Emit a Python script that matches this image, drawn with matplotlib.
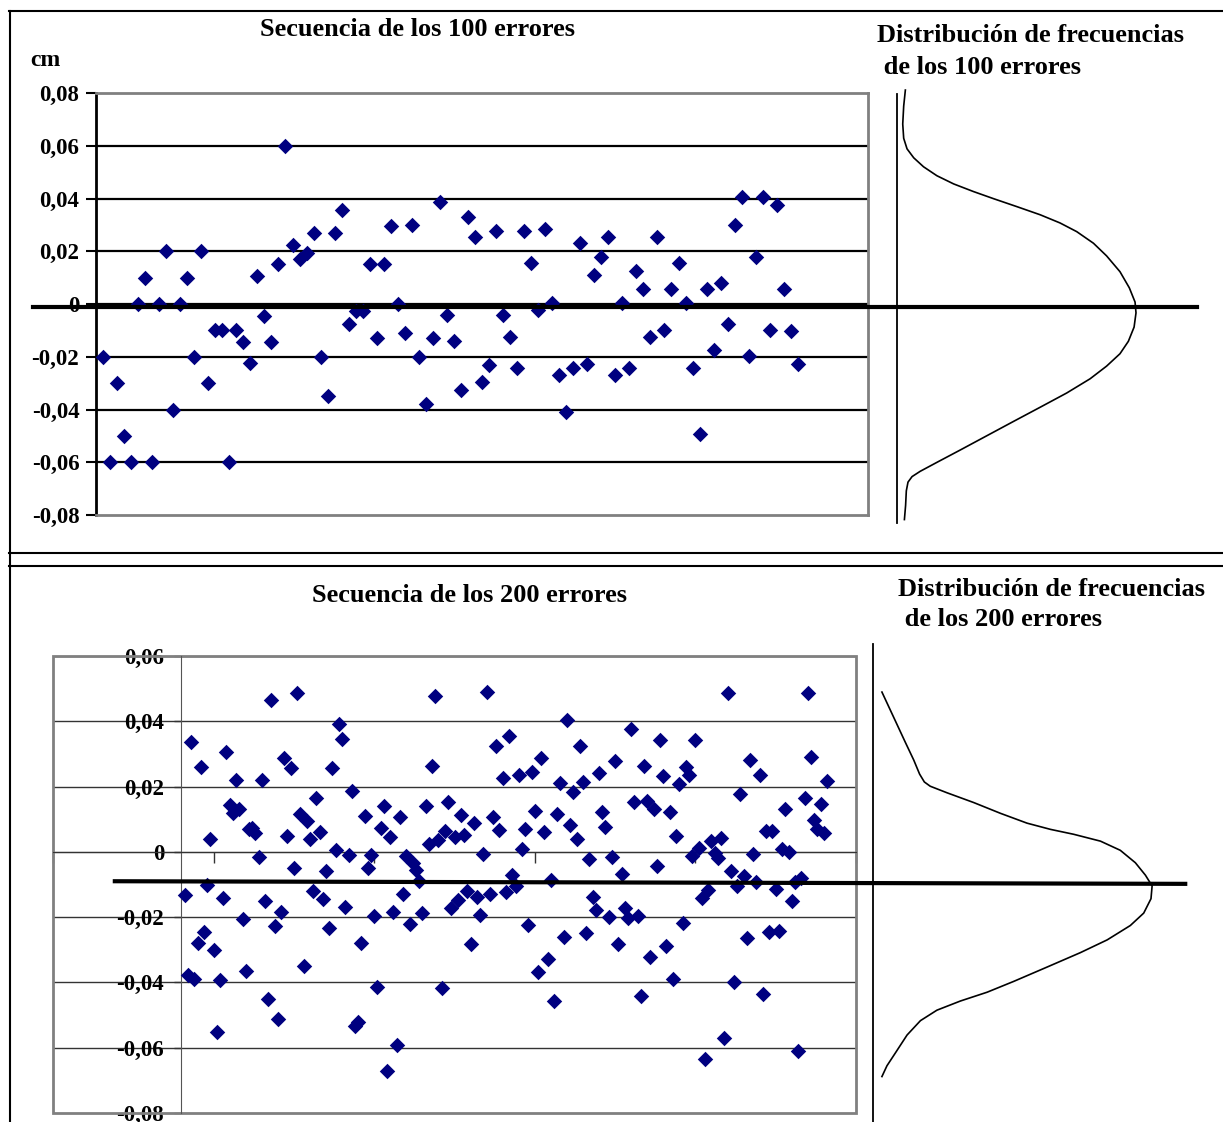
import matplotlib.pyplot as plt
import numpy as np
from matplotlib.ticker import FuncFormatter, FixedLocator
from matplotlib.patches import Rectangle

# fuente tipo Times en negrita
plt.rcParams['font.family'] = ['Liberation Serif', 'DejaVu Serif']
plt.rcParams['font.weight'] = 'bold'

W, H = 1223, 1122

# errores de la primera serie (cm)
errores_100 = [
    -0.02, -0.06, -0.03, -0.05, -0.06, 0.0, 0.01, -0.06, 0.0, 0.02,
    -0.04, 0.0, 0.01, -0.02, 0.02, -0.03, -0.01, -0.01, -0.06, -0.01,
    -0.0145, -0.0225, 0.0105, -0.0045, -0.0145, 0.015, 0.06, 0.0225, 0.017, 0.0195,
    0.027, -0.02, -0.035, 0.027, 0.0355, -0.0075, -0.0025, -0.0025, 0.015, -0.013,
    0.015, 0.0295, 0.0, -0.011, 0.03, -0.02, -0.038, -0.013, 0.0385, -0.0043,
    -0.0142, -0.0325, 0.033, 0.0254, -0.0296, -0.0232, 0.0277, -0.0043, -0.0127, -0.0241,
    0.0277, 0.0155, -0.0022, 0.0284, 0.0003, -0.027, -0.0408, -0.0241, 0.0231, -0.0226,
    0.0109, 0.0178, 0.0254, -0.027, 0.0003, -0.0241, 0.0124, 0.0056, -0.0127, 0.0254,
    -0.0097, 0.0056, 0.0155, 0.0003, -0.0241, -0.0493, 0.0056, -0.0173, 0.0079, -0.0074,
    0.03, 0.0406, -0.0196, 0.0178, 0.0406, -0.0097, 0.0376, 0.0056, -0.0104, -0.0226,
]

# errores de la segunda serie (cm)
errores_200 = [
    -0.0132, -0.0376, 0.0336, -0.0389, -0.0279, 0.026, -0.0247, -0.0101, 0.0039, -0.03,
    -0.0551, -0.0392, -0.0142, 0.0307, 0.0144, 0.0118, 0.022, 0.0131, -0.0206, -0.0366,
    0.0069, 0.0072, 0.0057, -0.0016, 0.022, -0.0152, -0.045, 0.0465, -0.0226, -0.0512,
    -0.0183, 0.0287, 0.0049, 0.0256, -0.005, 0.0486, 0.0116, -0.0351, 0.0093, 0.0039,
    -0.0121, 0.0164, 0.0062, -0.0145, -0.0058, -0.0234, 0.0258, 0.0006, 0.0392, 0.0345,
    -0.0169, -0.0011, 0.0185, -0.0534, -0.0522, -0.0279, 0.0111, -0.005, -0.0009, -0.0195,
    -0.0415, 0.0072, 0.0141, -0.0672, 0.0047, -0.0183, -0.0591, 0.0106, -0.013, -0.0014,
    -0.022, -0.0035, -0.0055, -0.009, -0.0186, 0.0139, 0.0024, 0.0264, 0.0478, 0.0037,
    -0.0417, 0.0065, 0.0154, -0.0172, 0.0047, -0.0149, 0.0113, 0.0052, -0.0119, -0.0282,
    0.0088, -0.0137, -0.0193, -0.0006, 0.0489, -0.0129, 0.0108, 0.0324, 0.0067, 0.0227,
    -0.0123, 0.0356, -0.007, -0.0106, 0.0236, 0.0009, 0.0069, -0.0223, 0.0246, 0.0126,
    -0.0368, 0.0287, 0.0062, -0.0328, -0.0086, -0.0456, 0.0115, 0.0212, -0.0261, 0.0404,
    0.0081, 0.0182, 0.004, 0.0325, 0.0215, -0.0249, -0.0021, -0.0137, -0.0177, 0.0241,
    0.0121, 0.0075, -0.02, -0.0016, 0.0279, -0.0283, -0.0068, -0.0172, -0.0203, 0.0376,
    0.0154, -0.0198, -0.0441, 0.0263, 0.0157, -0.0323, 0.0131, -0.0042, 0.0343, 0.0231,
    -0.0288, 0.0121, -0.039, 0.005, 0.0207, -0.0218, 0.0259, 0.0236, -0.0014, 0.0343,
    0.0011, -0.0142, -0.0634, -0.0116, 0.0032, -0.0004, -0.0019, 0.0042, -0.057, 0.0486,
    -0.006, -0.0399, -0.0106, 0.0177, -0.0075, -0.0264, 0.0282, -0.0006, -0.0091, 0.0236,
    -0.0435, 0.0064, -0.0246, 0.0064, -0.0114, -0.0241, 0.0008, 0.0131, -0.0001, -0.015,
    -0.0091, -0.0609, -0.0079, 0.0166, 0.0486, 0.0292, 0.0098, 0.0069, 0.0147, 0.0057,
    0.0218,
]

# linea media dibujada sobre cada grafico
media_100 = [-0.001, -0.001]
media_200 = [-0.009, -0.0098]

# curvas de distribucion dibujadas a mano (altura en cm, frecuencia relativa)
curva_100_y = [0.0811, 0.075, 0.0682, 0.0628, 0.0588, 0.0554, 0.052, 0.0486, 0.0455, 0.0426,
               0.0399, 0.0369, 0.0338, 0.0307, 0.0274, 0.023, 0.0182, 0.0122, 0.0061, 0.0007,
               -0.0034, -0.0088, -0.0142, -0.0189, -0.0236, -0.0284, -0.0338, -0.0392, -0.0446,
               -0.05, -0.0554, -0.0601, -0.0635, -0.0655, -0.0676, -0.0709, -0.0764, -0.0818]
curva_100_f = [0.035, 0.028, 0.024, 0.028, 0.042, 0.07, 0.111, 0.167, 0.237, 0.32,
               0.404, 0.501, 0.599, 0.682, 0.752, 0.822, 0.877, 0.933, 0.972, 0.996,
               1.0, 0.992, 0.968, 0.933, 0.877, 0.808, 0.71, 0.599, 0.487,
               0.376, 0.265, 0.167, 0.097, 0.063, 0.046, 0.039, 0.036, 0.031]
curva_200_y = [0.0489, 0.0445, 0.039, 0.0335, 0.0281, 0.0238, 0.0214, 0.0201, 0.0181, 0.0151,
               0.0118, 0.0088, 0.0069, 0.0054, 0.0033, 0.0005, -0.0033, -0.0071, -0.0104,
               -0.0143, -0.0187, -0.0225, -0.0269, -0.0308, -0.0352, -0.0396, -0.0429, -0.0456,
               -0.0484, -0.0516, -0.056, -0.0615, -0.0654, -0.0687]
curva_200_f = [0.032, 0.056, 0.086, 0.116, 0.146, 0.167, 0.184, 0.205, 0.265, 0.361,
               0.457, 0.552, 0.636, 0.719, 0.815, 0.886, 0.94, 0.976, 1.0,
               0.996, 0.97, 0.922, 0.839, 0.743, 0.624, 0.504, 0.409, 0.313,
               0.229, 0.17, 0.122, 0.08, 0.05, 0.032]

ticks_100 = [-0.08, -0.06, -0.04, -0.02, 0.0, 0.02, 0.04, 0.06, 0.08]
ticks_200 = [-0.08, -0.06, -0.04, -0.02, 0.0, 0.02, 0.04, 0.06]
ticks_x_200 = [-40, 10, 60, 110, 160, 210]

AZUL = '#000080'
GRIS = '#808080'


# posicion en pixeles -> fraccion de la figura
def caja(l, t, r, b):
    return [l / W, 1 - b / H, (r - l) / W, (b - t) / H]


# etiquetas con coma decimal
def coma(v, pos):
    if abs(v) < 1e-9:
        return '0'
    return ('%.2f' % v).replace('.', ',')


def texto(x, y, s, size=19, **kw):
    fig.text(x / W, 1 - y / H, s, fontsize=size, fontweight='bold', va='center', **kw)


fig = plt.figure(figsize=(W / 100, H / 100), dpi=100)

# marco general
marco = fig.add_axes([0, 0, 1, 1])
marco.set_xlim(0, W)
marco.set_ylim(H, 0)
marco.axis('off')
marco.plot([9.5, 9.5], [11, H], color='black', lw=1.5)
marco.plot([9, W], [11, 11], color='black', lw=1.5)
marco.plot([9, W], [553, 553], color='black', lw=1.5)
marco.plot([9, W], [566, 566], color='black', lw=1.5)

# ---------- grafico de 100 errores ----------
ax1 = fig.add_axes(caja(96, 93, 868, 515))
x1 = np.arange(1, len(errores_100) + 1)
ax1.set_xlim(0, 110)
ax1.set_ylim(-0.08, 0.08)
ax1.yaxis.set_major_locator(FixedLocator(ticks_100))
ax1.yaxis.set_major_formatter(FuncFormatter(coma))
ax1.set_xticks([])
for v in ticks_100[1:-1]:
    ax1.axhline(v, color='black', lw=1.6, zorder=1)
ax1.scatter(x1, errores_100, marker='D', s=62, color=AZUL, linewidths=0, zorder=3)
ax1.plot([-0.082, 1.426], media_100, color='black', lw=3, transform=ax1.get_yaxis_transform(),
         clip_on=False, zorder=4)
for lado in ['top', 'right', 'bottom']:
    ax1.spines[lado].set_color(GRIS)
    ax1.spines[lado].set_linewidth(2)
ax1.spines['left'].set_linewidth(2)
ax1.tick_params(axis='y', length=7, width=1.5, pad=5, labelsize=16.5)

c1 = fig.add_axes(caja(897, 94, 1223, 523))
c1.set_ylim(-0.0831, 0.0796)
c1.set_xlim(0, 1.364)
c1.plot(curva_100_f, curva_100_y, color='black', lw=1.2, clip_on=False)
for lado in ['top', 'right', 'bottom']:
    c1.spines[lado].set_visible(False)
c1.spines['left'].set_linewidth(1.3)
c1.set_xticks([])
c1.set_yticks([])
c1.patch.set_alpha(0)

texto(418, 29, 'Secuencia de los 100 errores', ha='center')
texto(30, 60, 'cm', size=17, ha='left')
texto(877, 36, 'Distribución de frecuencias', ha='left')
texto(877, 67, ' de los 100 errores', ha='left')

# ---------- grafico de 200 errores ----------
ax2 = fig.add_axes(caja(53, 656, 856, 1113))
x2 = np.arange(1, len(errores_200) + 1)
ax2.set_xlim(-40, 210)
ax2.set_ylim(-0.08, 0.06)
ax2.yaxis.set_major_locator(FixedLocator(ticks_200))
ax2.yaxis.set_major_formatter(FuncFormatter(coma))
ax2.xaxis.set_major_locator(FixedLocator(ticks_x_200))
ax2.set_xticklabels([])
for v in ticks_200[1:]:
    ax2.axhline(v, color='#333333', lw=1.0, zorder=1)
ax2.scatter(x2, errores_200, marker='D', s=62, color=AZUL, linewidths=0, zorder=3, clip_on=False)
ax2.plot([0.077, 1.41], media_200, color='black', lw=3, transform=ax2.get_yaxis_transform(),
         clip_on=False, zorder=4)
ax2.spines['left'].set_position(('data', 0))
ax2.spines['bottom'].set_position(('data', 0))
ax2.spines['left'].set_color('#555555')
ax2.spines['bottom'].set_color('#333333')
ax2.spines['top'].set_visible(False)
ax2.spines['right'].set_visible(False)
ax2.add_patch(Rectangle((0, 0), 1, 1, transform=ax2.transAxes, fill=False,
                        edgecolor=GRIS, lw=2, clip_on=False, zorder=2))
ax2.tick_params(axis='y', length=5, width=1, pad=7.5, labelsize=16.5, color='#333333')
ax2.tick_params(axis='x', length=8, width=1, color='#333333')

c2 = fig.add_axes(caja(873, 644, 1223, 1122))
c2.set_ylim(-0.0826, 0.0636)
c2.set_xlim(0, 1.254)
c2.plot(curva_200_f, curva_200_y, color='black', lw=1.2, clip_on=False)
for lado in ['top', 'right', 'bottom']:
    c2.spines[lado].set_visible(False)
c2.spines['left'].set_linewidth(1.3)
c2.set_xticks([])
c2.set_yticks([])
c2.patch.set_alpha(0)

texto(470, 596, 'Secuencia de los 200 errores', ha='center')
texto(898, 590, 'Distribución de frecuencias', ha='left')
texto(898, 620, ' de los 200 errores', ha='left')

fig.savefig('out.png', dpi=100)
